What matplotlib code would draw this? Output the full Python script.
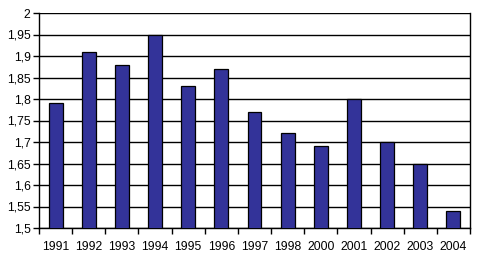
import matplotlib
matplotlib.use("Agg")
import matplotlib.pyplot as plt
from matplotlib.ticker import FuncFormatter, FixedLocator

years = ["1991", "1992", "1993", "1994", "1995", "1996", "1997",
         "1998", "2000", "2001", "2002", "2003", "2004"]
values = [1.79, 1.91, 1.88, 1.95, 1.83, 1.87, 1.77,
          1.72, 1.69, 1.80, 1.70, 1.65, 1.54]
y_ticks = [1.5, 1.55, 1.6, 1.65, 1.7, 1.75, 1.8, 1.85, 1.9, 1.95, 2.0]

plt.rcParams["font.family"] = ["Liberation Sans", "DejaVu Sans"]
plt.rcParams["font.size"] = 8.8

fig = plt.figure(figsize=(4.78, 2.59), dpi=100)
ax = fig.add_axes([39 / 478, 1 - 228 / 259, 431 / 478, 215 / 259])

x = range(len(years))
ax.bar(x, values, width=0.42, bottom=0, color="#333399",
       edgecolor="black", linewidth=0.9, zorder=3)

ax.set_ylim(1.5, 2.0)
ax.set_xlim(-0.5, len(years) - 0.5)
ax.set_yticks(y_ticks)
ax.yaxis.set_major_formatter(
    FuncFormatter(lambda v, p: f"{v:.2f}".rstrip("0").rstrip(".").replace(".", ","))
)
ax.grid(axis="y", color="black", linewidth=1.0, zorder=0)

# category labels centred, ticks between categories
ax.set_xticks(list(x))
ax.set_xticklabels(years)
ax.tick_params(axis="x", which="major", length=0, pad=9)
ax.xaxis.set_minor_locator(FixedLocator([i - 0.5 for i in range(len(years) + 1)]))
ax.tick_params(axis="x", which="minor", length=4, width=1, color="black")
ax.tick_params(axis="y", length=4, width=1, pad=2)

ax.spines["top"].set_visible(False)
for side in ["right", "left", "bottom"]:
    ax.spines[side].set_linewidth(1.0)

fig.savefig("out.png", dpi=100)
plt.close(fig)
